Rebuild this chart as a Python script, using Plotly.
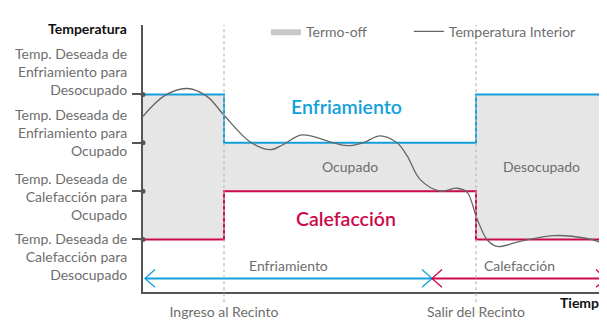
import plotly.graph_objects as go

# phase boundaries on the time axis: start, entry, exit, end of view
phase_edges = [0, 8.1, 33.3, 46.4]
phase_names = [None, "Ocupado", "Desocupado"]
cool_setpoints = [27, 24, 27]
heat_setpoints = [18, 21, 18]

setpoint_ticks = [27, 24, 21, 18]
setpoint_labels = [
    "Temp. Deseada de<br>Enfriamiento para<br>Desocupado",
    "Temp. Deseada de<br>Enfriamiento para<br>Ocupado",
    "Temp. Deseada de<br>Calefacción para<br>Ocupado",
    "Temp. Deseada de<br>Calefacción para<br>Desocupado",
]

time = [0, 2.2, 4.4, 6.4, 8.1, 10.7, 12.7, 14.0, 15.9, 18.7, 20.4, 22.0, 23.7,
        25.4, 26.4, 27.7, 29.7, 31.4, 32.4, 33.4, 34.4, 35.4, 37.7, 41.0, 44.4, 46.4]
indoor_temp = [25.65, 26.94, 27.37, 26.88, 25.71, 24.06, 23.57, 23.88, 24.49, 24.06,
               23.82, 24.0, 24.43, 24.0, 23.2, 21.73, 21.0, 21.18, 20.94, 19.29,
               18.0, 17.57, 17.88, 18.24, 18.06, 17.69]

event_times = [8.1, 33.3]
event_labels = ["Ingreso al Recinto", "Salir del Recinto"]

mode_names = ["Enfriamiento", "Calefacción"]
mode_spans = [(0.2, 28.9), (28.9, 46.3)]

BLUE = "#12a0dc"
RED = "#cc0a48"
GRAY_TXT = "#6e6e6e"
AXIS = "#555555"
FONT = "Lato"
FS = 14

y_min, y_max = 14.74, 31.31
x_min, x_max = phase_edges[0], phase_edges[-1]


def steps(values):
    xs, ys = [], []
    for i, v in enumerate(values):
        xs += [phase_edges[i], phase_edges[i + 1]]
        ys += [v, v]
    return xs, ys


fig = go.Figure()

sx, cool_y = steps(cool_setpoints)
_, heat_y = steps(heat_setpoints)

# termo-off band between the two setpoints
fig.add_scatter(x=sx, y=cool_y, mode="lines", line=dict(width=0),
                showlegend=False, hoverinfo="skip")
fig.add_scatter(x=sx, y=heat_y, mode="lines", line=dict(width=0),
                fill="tonexty", fillcolor="#e6e6e6", showlegend=False)

fig.add_scatter(x=sx, y=cool_y, mode="lines", line=dict(color=BLUE, width=2),
                showlegend=False)
fig.add_scatter(x=sx, y=heat_y, mode="lines", line=dict(color=RED, width=2),
                showlegend=False)

fig.add_scatter(x=time, y=indoor_temp, mode="lines", line_shape="spline",
                line=dict(color="#666666", width=1.3), name="Temperatura Interior",
                legend="legend2")

# legend swatch for the band
fig.add_scatter(x=[None], y=[None], mode="lines", line=dict(width=0),
                fill="toself", fillcolor="#c8c8c8", name="Termo-off", legend="legend")

# dots where ticks meet the axis
fig.add_scatter(x=[x_min] * len(setpoint_ticks), y=setpoint_ticks, mode="markers",
                marker=dict(size=5, color=AXIS), cliponaxis=False, showlegend=False)

# entry / exit markers
for t in event_times:
    fig.add_shape(type="line", xref="x", yref="paper", x0=t, x1=t, y0=-0.038, y1=1,
                  line=dict(color="#bdbdbd", width=1.3, dash="dot"))
fig.add_scatter(x=event_times, y=[y_min - 0.57] * len(event_times), mode="markers",
                marker=dict(size=4, color="#9a9a9a"), cliponaxis=False, showlegend=False)

# mode arrows along the bottom
arrow_y = y_min + 0.84
for name, (a, b), col in zip(mode_names, mode_spans, [BLUE, RED]):
    fig.add_scatter(x=[a, b], y=[arrow_y, arrow_y], mode="lines",
                    line=dict(color=col, width=2), showlegend=False, cliponaxis=False)
    fig.add_scatter(x=[a + 1.0, a, a + 1.0], y=[arrow_y + 0.55, arrow_y, arrow_y - 0.55],
                    mode="lines", line=dict(color=col, width=1.3), showlegend=False)
    fig.add_scatter(x=[b - 1.0, b, b - 1.0], y=[arrow_y + 0.55, arrow_y, arrow_y - 0.55],
                    mode="lines", line=dict(color=col, width=1.3), showlegend=False)
    fig.add_annotation(x=(a + b) / 2, y=arrow_y + 0.79, text=name, showarrow=False,
                       font=dict(family=FONT, size=FS, color=GRAY_TXT))

# big mode titles inside the occupied phase
occ_mid = (phase_edges[1] + phase_edges[2]) / 2
fig.add_annotation(x=occ_mid, xshift=-4, y=(cool_setpoints[1] + cool_setpoints[0]) / 2 + 0.75,
                   text="Enfriamiento", showarrow=False,
                   font=dict(family=FONT, size=19.5, color=BLUE, weight=600))
fig.add_annotation(x=occ_mid, xshift=-4, y=(heat_setpoints[1] + heat_setpoints[0]) / 2 - 0.2,
                   text="Calefacción", showarrow=False,
                   font=dict(family=FONT, size=19.5, color=RED, weight=600))

for i in (1, 2):
    fig.add_annotation(x=(phase_edges[i] + phase_edges[i + 1]) / 2,
                       y=(cool_setpoints[1] + heat_setpoints[1]) / 2,
                       text=phase_names[i], showarrow=False,
                       font=dict(family=FONT, size=FS, color=GRAY_TXT))

# setpoint labels on the left
label_shifts = [23, 10, -5, -17]
for val, txt, sh in zip(setpoint_ticks, setpoint_labels, label_shifts):
    fig.add_annotation(xref="paper", x=0, xshift=-14, xanchor="right", y=val, yshift=sh,
                       text=txt, showarrow=False, align="right",
                       font=dict(family=FONT, size=FS, color=GRAY_TXT))

fig.add_annotation(xref="paper", yref="paper", x=0, xshift=-14, xanchor="right",
                   y=1, yshift=-3, yanchor="middle", text="<b>Temperatura</b>",
                   showarrow=False, font=dict(family=FONT, size=FS, color="#111111"))
fig.add_annotation(xref="x", yref="paper", x=41.5, xanchor="left", y=-0.038,
                   yanchor="middle", text="<b>Tiempo</b>", showarrow=False,
                   font=dict(family=FONT, size=FS, color="#111111"))

legend_style = dict(orientation="h", y=0.975, yanchor="middle", xanchor="left",
                    bgcolor="rgba(0,0,0,0)", itemwidth=30,
                    font=dict(family=FONT, size=FS, color=GRAY_TXT))

# the page body has an 8px margin, so the plot area is laid out 8px up/left
fig.update_layout(
    width=607, height=320,
    margin=dict(l=135, r=8, t=12, b=36),
    paper_bgcolor="white", plot_bgcolor="white",
    font=dict(family=FONT, size=FS, color=GRAY_TXT),
    legend=dict(x=0.265, **legend_style),
    legend2=dict(x=0.573, **legend_style),
    xaxis=dict(range=[x_min, x_max], showgrid=False, zeroline=False, showline=True,
               linecolor=AXIS, linewidth=2, tickvals=event_times, ticktext=event_labels,
               ticks="", ticklabelstandoff=6, automargin=False,
               tickfont=dict(family=FONT, size=FS, color=GRAY_TXT)),
    yaxis=dict(range=[y_min, y_max], showgrid=False, zeroline=False, showline=True,
               linecolor=AXIS, linewidth=2, tickvals=setpoint_ticks, showticklabels=False,
               ticks="outside", ticklen=9, tickwidth=2, tickcolor=AXIS, automargin=False),
)

fig.write_html("out.html")
